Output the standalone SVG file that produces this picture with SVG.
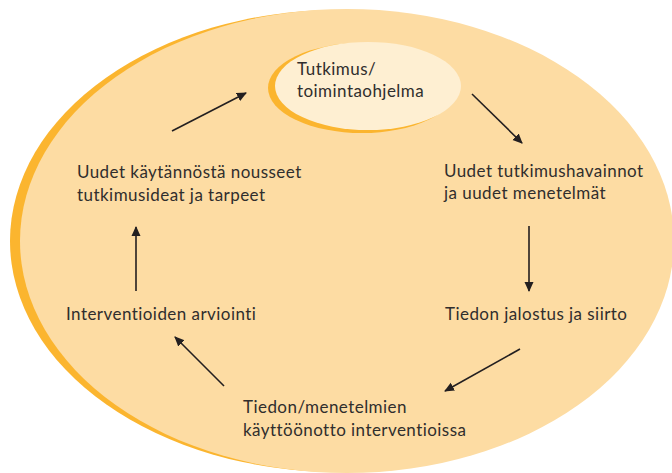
<svg xmlns="http://www.w3.org/2000/svg" width="672" height="473" viewBox="0 0 672 473">
<defs>
<style>
.t{font-family:Lato,"Open Sans","Liberation Sans",sans-serif;font-size:17px;letter-spacing:0.45px;fill:#302e2d}
.c{stroke:#231f20;stroke-width:1.6;fill:none;marker-end:url(#ah)}
</style>
<marker id="ah" viewBox="0 0 10 10" refX="9" refY="5" markerWidth="10" markerHeight="10" markerUnits="userSpaceOnUse" orient="auto">
<path d="M0,0.5 L10,5 L0,9.5 Z" fill="#231f20"/>
</marker>
</defs>
<rect width="672" height="473" fill="#ffffff"/>
<g id="background">
<ellipse cx="338" cy="241" rx="328" ry="231" fill="#fbb52f"/>
<ellipse cx="347" cy="241" rx="327" ry="232" fill="#fddca3"/>
</g>
<g id="n-tutkimus">
<ellipse cx="362" cy="88" rx="94" ry="45" fill="#fbb52f"/>
<ellipse cx="368" cy="86" rx="93" ry="44" fill="#feefd2"/>
<text class="t" x="297" y="75">Tutkimus/</text>
<text class="t" x="297" y="97">toimintaohjelma</text>
</g>
<g id="n-havainnot">
<text class="t" x="444" y="177">Uudet tutkimushavainnot</text>
<text class="t" x="444" y="199">ja uudet menetelmät</text>
</g>
<g id="n-jalostus">
<text class="t" x="445" y="320">Tiedon jalostus ja siirto</text>
</g>
<g id="n-kayttoonotto">
<text class="t" x="243" y="413">Tiedon/menetelmien</text>
<text class="t" x="243" y="436">käyttöönotto interventioissa</text>
</g>
<g id="n-arviointi">
<text class="t" x="66" y="320">Interventioiden arviointi</text>
</g>
<g id="n-ideat">
<text class="t" x="77" y="178">Uudet käytännöstä nousseet</text>
<text class="t" x="77" y="201">tutkimusideat ja tarpeet</text>
</g>
<g id="connectors">
<line class="c" x1="172" y1="131" x2="246" y2="93"/>
<line class="c" x1="472" y1="94" x2="522" y2="143"/>
<line class="c" x1="529" y1="226" x2="529" y2="291"/>
<line class="c" x1="520" y1="349" x2="445" y2="391"/>
<line class="c" x1="224" y1="386" x2="175" y2="337"/>
<line class="c" x1="136" y1="291" x2="136" y2="227"/>
</g>
</svg>
